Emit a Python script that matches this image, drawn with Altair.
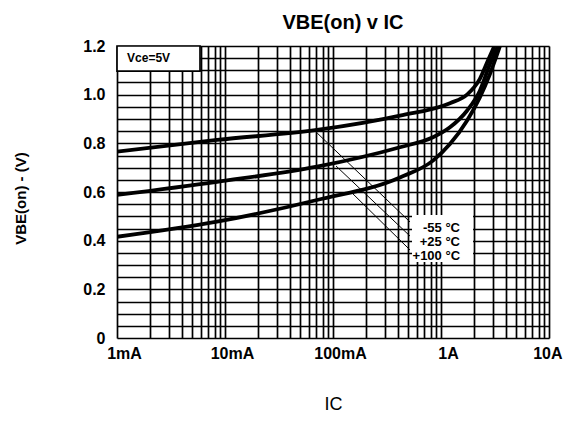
import altair as alt
import pandas as pd

FONT = "Liberation Sans"

# ---- data ----
series = ["-55 °C", "+25 °C", "+100 °C"]
ic_m55 = [0.001, 0.00843, 0.071, 0.417, 1.21, 1.74, 2.29, 2.72, 3.12]
vbe_m55 = [0.766, 0.814, 0.855, 0.914, 0.965, 1.0, 1.065, 1.14, 1.2]
ic_p25 = [0.001, 0.00843, 0.071, 0.417, 0.843, 1.21, 1.74, 2.29, 2.84, 3.37]
vbe_p25 = [0.588, 0.642, 0.704, 0.784, 0.825, 0.866, 0.934, 1.016, 1.126, 1.2]
ic_p100 = [0.001, 0.00843, 0.071, 0.417, 0.843, 1.21, 1.74, 2.29, 2.84, 3.52]
vbe_p100 = [0.416, 0.478, 0.567, 0.66, 0.729, 0.797, 0.893, 0.989, 1.085, 1.2]

# x tick positions (log grid) and y grid positions
x_grid = [d * 10.0 ** k for k in range(-3, 1) for d in range(1, 10)] + [10.0]
y_grid = [round(i * 0.05, 2) for i in range(0, 25)]

# annotation: leader lines from curves to the temperature labels
leader_x1 = [0.0713, 0.1066, 0.150]
leader_y1 = [0.8425, 0.707, 0.596]
leader_x2 = [0.516, 0.516, 0.516]
leader_y2 = [0.477, 0.419, 0.362]
label_x = [1.50, 1.50, 1.50]
label_y = [0.452, 0.395, 0.337]
label_box_x = [0.539, 1.98]
label_box_y = [0.312, 0.505]

# condition box
cond_text = "Vce=5V"
cond_box_x = [0.001, 0.00587]
cond_box_y = [1.097, 1.2]
cond_text_x = 0.00124
cond_text_y = 1.151

# ---- tables ----
rows = []
for name, xs, ys in zip(series, [ic_m55, ic_p25, ic_p100], [vbe_m55, vbe_p25, vbe_p100]):
    for a, b in zip(xs, ys):
        rows.append({"series": name, "ic": a, "vbe": b})
curves = pd.DataFrame(rows)

leaders = pd.DataFrame({"x1": leader_x1, "y1": leader_y1, "x2": leader_x2, "y2": leader_y2})
labels = pd.DataFrame({"x": label_x, "y": label_y, "t": series})
lbox = pd.DataFrame({"x1": [label_box_x[0]], "x2": [label_box_x[1]],
                     "y1": [label_box_y[0]], "y2": [label_box_y[1]]})
cbox = pd.DataFrame({"x1": [cond_box_x[0]], "x2": [cond_box_x[1]],
                     "y1": [cond_box_y[0]], "y2": [cond_box_y[1]]})
ctext = pd.DataFrame({"x": [cond_text_x], "y": [cond_text_y], "t": [cond_text]})

xscale = alt.Scale(type="log", domain=[0.001, 10])
yscale = alt.Scale(domain=[0, 1.2], nice=False, zero=False)

x_label_expr = ("abs(log(datum.value)/LN10 - round(log(datum.value)/LN10)) < 0.001 ? "
                "(datum.value < 0.9 ? format(datum.value*1000, 'd') + 'mA' : format(datum.value, 'd') + 'A') : ''")
y_label_expr = ("abs(datum.value*5 - round(datum.value*5)) < 0.001 ? "
                "(datum.value < 0.01 ? '0' : format(datum.value, '.1f')) : ''")

xaxis = alt.Axis(values=x_grid, labelExpr=x_label_expr, grid=True, ticks=False, domain=False,
                 labelFont=FONT, labelFontSize=16, labelFontWeight="bold", labelColor="black",
                 labelPadding=7,
                 labelOffset={"condition": {"test": "datum.value > 5", "value": 13}, "value": 7},
                 labelAlign={"condition": {"test": "datum.value > 5", "value": "right"}, "value": "center"},
                 labelOverlap=False, labelFlush=False, labelBound=False,
                 title="IC", titleFont=FONT, titleFontSize=18, titleFontWeight="normal",
                 titleColor="black", titleX=216, titleY=66, titleBaseline="middle",
                 gridColor="black", gridWidth=1.7, gridOpacity=1)
yaxis = alt.Axis(values=y_grid, labelExpr=y_label_expr, grid=True, ticks=False, domain=False,
                 labelFont=FONT, labelFontSize=16, labelFontWeight="bold", labelColor="black",
                 labelPadding=12, labelOverlap=False,
                 title="VBE(on) - (V)", titleFont=FONT, titleFontSize=15, titleFontWeight="bold",
                 titleColor="black", titleX=-97, titleY=152, titleAngle=-90,
                 titleAlign="center", titleBaseline="middle",
                 gridColor="black", gridWidth=1.7, gridOpacity=1)

lines = alt.Chart(curves).mark_line(
    interpolate="monotone", color="black", strokeWidth=3.8, clip=True
).encode(
    x=alt.X("ic:Q", scale=xscale, axis=xaxis),
    y=alt.Y("vbe:Q", scale=yscale, axis=yaxis),
    detail="series:N",
    order="ic:Q",
)

lbox_mark = alt.Chart(lbox).mark_rect(fill="white").encode(
    x=alt.X("x1:Q", scale=xscale, axis=xaxis), x2="x2:Q",
    y=alt.Y("y1:Q", scale=yscale, axis=yaxis), y2="y2:Q",
)
cbox_mark = alt.Chart(cbox).mark_rect(fill="white", stroke="black", strokeWidth=1.7).encode(
    x=alt.X("x1:Q", scale=xscale, axis=xaxis), x2="x2:Q",
    y=alt.Y("y1:Q", scale=yscale, axis=yaxis), y2="y2:Q",
)
leader_mark = alt.Chart(leaders).mark_rule(color="black", strokeWidth=1).encode(
    x=alt.X("x1:Q", scale=xscale, axis=xaxis), x2="x2:Q",
    y=alt.Y("y1:Q", scale=yscale, axis=yaxis), y2="y2:Q",
)
label_mark = alt.Chart(labels).mark_text(
    align="right", baseline="middle", font=FONT, fontSize=13, fontWeight="bold", color="black"
).encode(
    x=alt.X("x:Q", scale=xscale, axis=xaxis), y=alt.Y("y:Q", scale=yscale, axis=yaxis), text="t:N"
)
ctext_mark = alt.Chart(ctext).mark_text(
    align="left", baseline="middle", font=FONT, fontSize=12, fontWeight="bold", color="black"
).encode(
    x=alt.X("x:Q", scale=xscale, axis=xaxis), y=alt.Y("y:Q", scale=yscale, axis=yaxis), text="t:N"
)

chart = alt.layer(
    lines, lbox_mark, cbox_mark, leader_mark, label_mark, ctext_mark
).properties(
    width=432, height=292,
    autosize=alt.AutoSizeParams(type="none"),
    padding={"left": 109, "top": 38, "right": 14, "bottom": 78},
    title=alt.TitleParams("VBE(on) v IC", font=FONT, fontSize=20, fontWeight="bold",
                          color="black", anchor="middle", frame="group", dx=10, offset=5),
).configure_view(
    stroke="black", strokeWidth=2
).configure(background="white")

chart.save("out.html", embed_options={"renderer": "svg", "actions": False})
